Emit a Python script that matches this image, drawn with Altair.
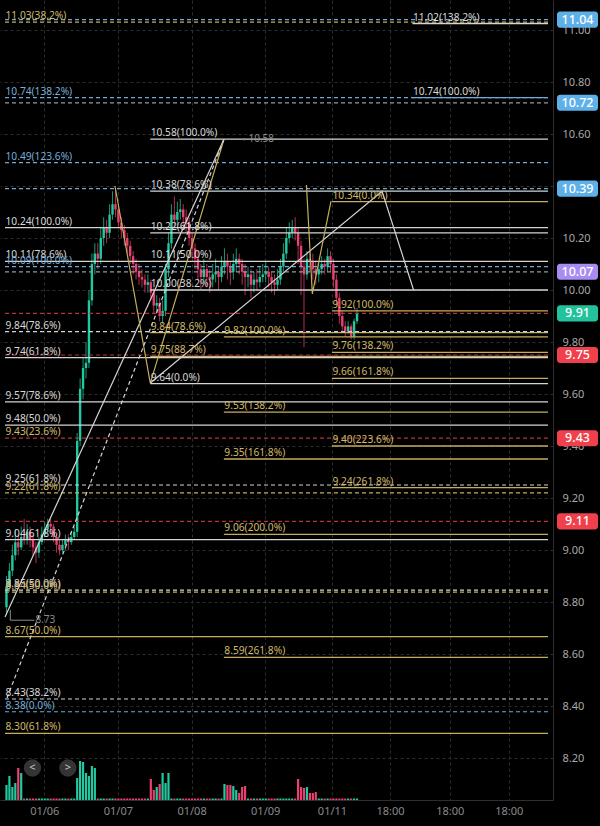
import altair as alt
import pandas as pd

# ---------------- data ----------------
first_open = 8.78
closes = [8.86, 8.92, 8.98, 9.03, 9.01, 9.05, 9.04, 9.07, 9.04, 9.01,
          8.99, 9.03, 9.06, 9.08, 9.10, 9.09, 9.05, 9.02, 9.00, 9.02,
          9.04, 9.03, 9.05, 9.07, 9.42, 9.62, 9.70, 9.72, 9.96, 10.10,
          10.14, 10.12, 10.20, 10.24, 10.22, 10.29, 10.33, 10.31, 10.26, 10.23,
          10.20, 10.17, 10.13, 10.10, 10.07, 10.05, 10.04, 10.02, 10.03, 9.99,
          9.94, 9.95, 9.90, 9.92, 10.08, 10.18, 10.29, 10.27, 10.30, 10.31,
          10.28, 10.26, 10.20, 10.16, 10.12, 10.08, 10.05, 10.08, 10.05, 10.04,
          10.06, 10.07, 10.05, 10.09, 10.11, 10.09, 10.07, 10.10, 10.12, 10.10,
          10.07, 10.05, 10.06, 10.02, 10.04, 10.03, 10.05, 10.06, 10.07, 10.05,
          10.03, 10.02, 10.04, 10.09, 10.14, 10.20, 10.22, 10.24, 10.22, 10.17,
          10.09, 10.06, 10.12, 10.11, 10.08, 10.06, 10.08, 10.10, 10.09, 10.13,
          10.10, 10.04, 9.97, 9.90, 9.86, 9.84, 9.86, 9.82, 9.88, 9.91]
highs = [8.90, 8.95, 9.02, 9.08, 9.06, 9.09, 9.12, 9.10, 9.09, 9.06,
         9.03, 9.05, 9.09, 9.11, 9.12, 9.12, 9.10, 9.06, 9.04, 9.04,
         9.06, 9.06, 9.07, 9.09, 9.45, 9.66, 9.74, 9.80, 10.00, 10.14,
         10.18, 10.18, 10.24, 10.28, 10.27, 10.33, 10.38, 10.39, 10.33, 10.28,
         10.25, 10.22, 10.19, 10.15, 10.12, 10.10, 10.08, 10.06, 10.06, 10.04,
         10.01, 9.98, 9.97, 9.96, 10.10, 10.22, 10.33, 10.36, 10.34, 10.35,
         10.33, 10.31, 10.28, 10.22, 10.18, 10.15, 10.10, 10.12, 10.10, 10.08,
         10.10, 10.12, 10.09, 10.13, 10.16, 10.14, 10.11, 10.14, 10.16, 10.14,
         10.12, 10.10, 10.09, 10.08, 10.07, 10.08, 10.09, 10.10, 10.11, 10.09,
         10.07, 10.06, 10.08, 10.12, 10.18, 10.24, 10.26, 10.27, 10.28, 10.24,
         10.19, 10.12, 10.15, 10.15, 10.14, 10.11, 10.11, 10.13, 10.12, 10.16,
         10.15, 10.12, 10.06, 9.99, 9.92, 9.88, 9.88, 9.87, 9.89, 9.93]
lows = [8.75, 8.84, 8.90, 8.96, 8.98, 9.00, 9.02, 9.02, 9.01, 8.98,
        8.95, 8.97, 9.02, 9.05, 9.07, 9.06, 9.03, 8.99, 8.98, 8.99,
        9.00, 9.00, 9.02, 9.04, 9.05, 9.40, 9.58, 9.66, 9.70, 9.94,
        10.06, 10.08, 10.10, 10.17, 10.18, 10.20, 10.27, 10.28, 10.24, 10.20,
        10.17, 10.14, 10.10, 10.06, 10.04, 10.02, 10.01, 9.99, 9.99, 9.96,
        9.91, 9.91, 9.88, 9.87, 9.90, 10.05, 10.16, 10.24, 10.25, 10.27,
        10.25, 10.22, 10.17, 10.12, 10.08, 10.04, 10.00, 10.03, 10.01, 9.99,
        10.01, 10.03, 10.00, 10.03, 10.06, 10.04, 10.02, 10.04, 10.07, 10.06,
        10.02, 9.98, 10.01, 9.97, 9.99, 10.00, 10.01, 10.03, 10.03, 10.01,
        9.99, 9.98, 10.00, 10.02, 10.07, 10.12, 10.18, 10.20, 10.19, 10.10,
        9.98, 9.78, 10.04, 10.07, 10.04, 10.02, 10.03, 10.06, 10.06, 10.07,
        10.07, 10.01, 9.94, 9.87, 9.84, 9.82, 9.83, 9.81, 9.81, 9.87]
volumes = ([150, 240, 130, 170, 320, 270] + [15] * 18 +
           [220, 390, 380, 270, 240, 340, 320] + [15] * 18 +
           [210, 100, 130, 160, 270, 170, 270] + [15] * 18 +
           [160, 150, 150, 140, 100, 70, 130, 140] + [15] * 17 +
           [210, 130, 120, 130, 70, 70, 80] + [15] * 14)

tick_pos = [12.83, 37.83, 62.83, 87.83, 110.5, 130.2, 150.5, 170.5]
tick_lab = ["01/06", "01/07", "01/08", "01/09", "01/11", "18:00", "18:00", "18:00"]
price_ticks = [8.2, 8.4, 8.6, 8.8, 9.0, 9.2, 9.4, 9.6, 9.8, 10.0,
               10.2, 10.4, 10.6, 10.8, 11.0]

X_MIN, X_MAX = -0.5, 183.83
Y_MIN, Y_MAX = 8.0385, 11.1154

# fib / level lines (start bar, price, kind, dash)
F, A, B, C, D = X_MIN, 48.8, 73.8, 110.5, 137.8
lvl_price = [11.04, 11.03, 11.025, 10.74, 10.74, 10.72, 10.58, 10.49, 10.39, 10.38,
             10.34, 10.24, 10.22, 10.11, 10.09, 10.07, 10.00, 9.92, 9.91, 9.836,
             9.84, 9.82, 9.76, 9.75, 9.745, 9.74, 9.66, 9.64, 9.57, 9.53,
             9.48, 9.43, 9.40, 9.35, 9.25, 9.24, 9.22, 9.11, 9.06, 9.04,
             8.846, 8.838, 8.667, 8.587, 8.427, 8.378, 8.295]
lvl_start = [F, F, D, F, D, F, A, F, F, A,
             C, F, A, F, F, F, A, C, F, A,
             F, B, C, F, A, F, C, A, F, B,
             F, F, C, B, F, C, F, F, B, F,
             F, F, F, B, F, F, F]
lvl_kind = ["blue", "gold", "white", "blue", "blue", "gray", "white", "blue", "blue", "white",
            "gold", "white", "white", "white", "blue", "gray", "white", "gold", "red", "gold",
            "white", "gold", "gold", "red", "gold", "white", "gold", "white", "white", "gold",
            "white", "red", "gold", "gold", "white", "gold", "gold", "red", "gold", "white",
            "white", "gold", "gold", "gold", "white", "blue", "gold"]
lvl_dash = ["dash", "dash", "solid", "dash", "solid", "dash", "solid", "dash", "dash", "solid",
            "solid", "solid", "solid", "solid", "dash", "dash", "solid", "solid", "dash", "solid",
            "dash", "solid", "solid", "dash", "solid", "solid", "solid", "solid", "solid", "solid",
            "solid", "dash", "solid", "solid", "dash", "solid", "dash", "dash", "solid", "solid",
            "dash", "dash", "solid", "solid", "dash", "dash", "solid"]

lab_text = ["11.03(38.2%)", "11.02(138.2%)", "10.74(138.2%)", "10.74(100.0%)", "10.58(100.0%)",
            "10.49(123.6%)", "10.38(78.6%)", "10.34(0.0%)", "10.24(100.0%)", "10.22(61.8%)",
            "10.11(78.6%)", "10.09(100.0%)", "10.11(50.0%)", "10.00(38.2%)", "9.92(100.0%)",
            "9.84(78.6%)", "9.84(78.6%)", "9.82(100.0%)", "9.76(138.2%)", "9.75(88.7%)",
            "9.74(61.8%)", "9.66(161.8%)", "9.64(0.0%)", "9.57(78.6%)", "9.53(138.2%)",
            "9.48(50.0%)", "9.43(23.6%)", "9.40(223.6%)", "9.35(161.8%)", "9.25(61.8%)",
            "9.24(261.8%)", "9.22(61.8%)", "9.06(200.0%)", "9.04(61.8%)", "8.85(50.0%)",
            "8.84(50.0%)", "8.67(50.0%)", "8.59(261.8%)", "8.43(38.2%)", "8.38(0.0%)",
            "8.30(61.8%)"]
lab_price = [11.03, 11.025, 10.74, 10.74, 10.58,
             10.49, 10.38, 10.34, 10.24, 10.22,
             10.11, 10.09, 10.11, 10.00, 9.92,
             9.84, 9.836, 9.82, 9.76, 9.745,
             9.74, 9.66, 9.64, 9.57, 9.53,
             9.48, 9.43, 9.40, 9.35, 9.25,
             9.24, 9.22, 9.06, 9.04, 8.846,
             8.838, 8.667, 8.587, 8.427, 8.378,
             8.295]
lab_start = [F, D, F, D, A,
             F, A, C, F, A,
             F, F, A, A, C,
             F, A, B, C, A,
             F, C, A, F, B,
             F, F, C, B, F,
             C, F, B, F, F,
             F, F, B, F, F,
             F]
lab_kind = ["gold", "white", "blue", "white", "white",
            "blue", "white", "gold", "white", "white",
            "white", "blue", "white", "white", "gold",
            "white", "gold", "gold", "gold", "gold",
            "white", "gold", "white", "white", "gold",
            "white", "gold", "gold", "gold", "white",
            "gold", "gold", "gold", "white", "white",
            "gold", "gold", "gold", "white", "blue",
            "gold"]

# drawn trend lines / zigzags
diag_id = ["a", "a", "b", "b", "c", "c", "c", "d", "d", "d", "e", "e", "e"]
diag_x = [-0.5, 73.83, 0.17, 73.83, 36.83, 48.83, 73.83, 48.83, 127.5, 138.2, 101.83, 103.83, 110.17]
diag_p = [8.742, 10.58, 8.431, 10.58, 10.40, 9.642, 10.58, 9.642, 10.38, 10.00, 10.404, 9.985, 10.342]
diag_kind = ["white", "white", "white", "white", "gold", "gold", "gold",
             "white", "white", "white", "gold", "gold", "gold"]
diag_dash = ["solid", "solid", "dash", "dash", "solid", "solid", "solid",
             "solid", "solid", "solid", "solid", "solid", "solid"]

box_price = [11.04, 10.72, 10.39, 10.07, 9.91, 9.75, 9.43, 9.11]
box_kind = ["blue", "blue", "blue", "purple", "green", "red", "red", "red"]

nav_pos = [8.83, 20.83]
nav_text = ["<", ">"]

# ---------------- styles ----------------
DIR_COL = {"up": "#22c9a0", "down": "#ea4170"}
LINE_COL = {"white": "#d4d4d4", "gold": "#c4ad5c", "blue": "#6ea8d3", "red": "#b3343c",
            "gray": "#8f9aa6"}
TEXT_COL = {"white": "#d8d8d8", "gold": "#d2ba6a", "blue": "#78aed8", "red": "#c04048",
            "gray": "#a0a0a0"}
BOX_COL = {"blue": "#5eb0e8", "purple": "#a98cf2", "green": "#22c29c", "red": "#f0404c"}
FONT = "Noto Sans"

xs = alt.Scale(domain=[X_MIN, X_MAX], nice=False, zero=False)
ys = alt.Scale(domain=[Y_MIN, Y_MAX], nice=False, zero=False)

mids = [(tick_pos[k] + tick_pos[k + 1]) / 2 for k in range(len(tick_pos) - 1)]
expr = f"'{tick_lab[-1]}'"
for m, lab in reversed(list(zip(mids, tick_lab[:-1]))):
    expr = f"datum.value < {m:.2f} ? '{lab}' : ({expr})"

X_AX = alt.Axis(values=tick_pos, labelExpr=expr, grid=True, gridColor="#2e2e2e",
                gridDash=[3, 3], domainColor="#2e2e2e", ticks=False, labelColor="#8a8a8a",
                labelFontSize=11, labelPadding=5, labelOverlap=False, labelFlush=False,
                labelFont=FONT, title=None)
Y_AX = alt.Axis(orient="right", values=price_ticks, format=".2f", grid=True,
                gridColor="#2e2e2e", gridDash=[3, 3], domainColor="#2e2e2e", ticks=False,
                labelColor="#a8a8a8", labelFontSize=11, labelPadding=9, labelOverlap=False,
                labelFlush=False, labelFont=FONT, title=None)


def X(field):
    return alt.X(field, type="quantitative", scale=xs, axis=X_AX)


def Y(field):
    return alt.Y(field, type="quantitative", scale=ys, axis=Y_AX)


# ---------------- tables ----------------
n = len(closes)
opens = [first_open] + closes[:-1]
candles = pd.DataFrame({"i": list(range(n)), "o": opens, "c": closes,
                        "h": highs, "l": lows, "v": volumes})
candles["col"] = [DIR_COL["up"] if c >= o else DIR_COL["down"] for o, c in zip(opens, closes)]

levels = pd.DataFrame({"p": lvl_price, "x0": lvl_start, "dash": lvl_dash,
                       "col": [LINE_COL[k] for k in lvl_kind]})
levels["x1"] = X_MAX
labels = pd.DataFrame({"t": lab_text, "p": lab_price, "x": lab_start,
                       "col": [TEXT_COL[k] for k in lab_kind]})
diags = pd.DataFrame({"id": diag_id, "x": diag_x, "p": diag_p, "dash": diag_dash,
                      "col": [LINE_COL[k] for k in diag_kind],
                      "ord": list(range(len(diag_id)))})
boxes = pd.DataFrame({"p": box_price, "col": [BOX_COL[k] for k in box_kind],
                      "t": [f"{v:.2f}" for v in box_price]})
nav = pd.DataFrame({"x": nav_pos, "t": nav_text})

COL = alt.Color("col:N", scale=None)

base = alt.Chart(candles)

wicks = base.mark_rule(strokeWidth=1, opacity=0.75).encode(
    x=X("i"), y=Y("l"), y2="h:Q", color=COL)
bodies = base.mark_bar(size=2.4).encode(x=X("i"), y=Y("o"), y2="c:Q", color=COL)

lv = alt.Chart(levels)
lvl_solid = lv.transform_filter("datum.dash == 'solid'").mark_rule(strokeWidth=1.3).encode(
    x=X("x0"), x2="x1:Q", y=Y("p"), color=COL)
lvl_dashed = lv.transform_filter("datum.dash == 'dash'").mark_rule(
    strokeWidth=1.2, strokeDash=[4, 3]).encode(x=X("x0"), x2="x1:Q", y=Y("p"), color=COL)

dg = alt.Chart(diags)
diag_solid = dg.transform_filter("datum.dash == 'solid'").mark_line(strokeWidth=1.2).encode(
    x=X("x"), y=Y("p"), detail="id:N", order="ord:Q", color=COL)
diag_dashed = dg.transform_filter("datum.dash == 'dash'").mark_line(
    strokeWidth=1.2, strokeDash=[4, 3]).encode(
    x=X("x"), y=Y("p"), detail="id:N", order="ord:Q", color=COL)

lab_layer = alt.Chart(labels).mark_text(align="left", baseline="alphabetic", dx=0.5, dy=-3,
                                        fontSize=10.2, font=FONT).encode(
    x=X("x"), y=Y("p"), text="t:N", color=COL)

# small price callouts
callout = pd.DataFrame({"x": [80.8], "p": [10.58], "t": ["10.58"]})
call_dot = alt.Chart(callout).mark_point(filled=True, size=6, color="#8c8c8c").encode(
    x=X("x"), y=Y("p"))
call_txt = alt.Chart(callout).mark_text(align="left", baseline="middle", dx=4, fontSize=10,
                                        font=FONT, color="#8c8c8c").encode(
    x=X("x"), y=Y("p"), text="t:N")

marker = pd.DataFrame({"x": [1.3, 1.3, 9.5], "p": [8.77, 8.73, 8.73], "o": [0, 1, 2]})
mark_path = alt.Chart(marker).mark_line(strokeWidth=1, color="#8c8c8c").encode(
    x=X("x"), y=Y("p"), order="o:Q")
mark_txt = alt.Chart(pd.DataFrame({"x": [9.5], "p": [8.73], "t": ["8.73"]})).mark_text(
    align="left", baseline="middle", dx=1, fontSize=10, font=FONT, color="#8c8c8c").encode(
    x=X("x"), y=Y("p"), text="t:N")

# right-axis value boxes
box_rect = alt.Chart(boxes).transform_calculate(
    ya="datum.p + 0.031", yb="datum.p - 0.031").mark_rect(cornerRadius=3).encode(
    x=alt.value(557), x2=alt.value(598), y=Y("ya"), y2="yb:Q", color=COL)
box_txt = alt.Chart(boxes).mark_text(align="center", baseline="middle", fontSize=12.5,
                                     fontWeight=500, font=FONT, color="#ffffff").encode(
    x=alt.value(577.5), y=Y("p"), text="t:N")

# navigation buttons
nav_c = alt.Chart(nav).mark_point(filled=True, size=300, color="#3a3a3a", opacity=0.9).encode(
    x=X("x"), y=alt.value(768))
nav_t = alt.Chart(nav).mark_text(fontSize=11, font=FONT, color="#c8c8c8",
                                 baseline="middle").encode(
    x=X("x"), y=alt.value(768), text="t:N")

vol = base.mark_bar(size=2.2).encode(
    x=X("i"),
    y=alt.Y("v:Q", scale=alt.Scale(domain=[0, 8000], nice=False, zero=True), axis=None),
    color=COL)

price = alt.layer(wicks, bodies, lvl_solid, lvl_dashed, diag_solid, diag_dashed, lab_layer,
                  call_dot, call_txt, mark_path, mark_txt, box_rect, box_txt)

chart = alt.layer(vol, price, nav_c, nav_t).resolve_scale(y="independent").properties(
    width=553, height=800,
    autosize=alt.AutoSizeParams(type="none"),
    padding={"left": 0, "top": 0, "right": 47, "bottom": 26},
    background="#000000",
).configure_view(stroke=None)

chart.save("out.html", embed_options={"renderer": "svg", "actions": False})
